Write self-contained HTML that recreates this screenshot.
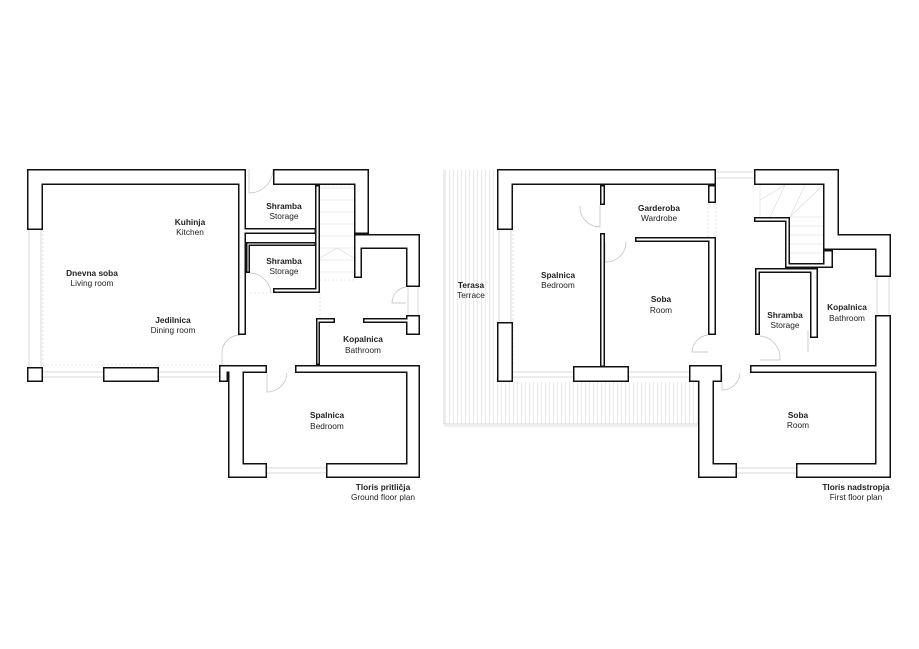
<!DOCTYPE html>
<html><head><meta charset="utf-8"><style>
html,body{margin:0;padding:0;background:#fff;}
svg{display:block;}
text{font-family:"Liberation Sans",sans-serif;font-size:8.3px;fill:#222;text-anchor:middle;}
.b{font-weight:bold;}
</style></head><body>
<svg width="919" height="649" viewBox="0 0 919 649" xmlns="http://www.w3.org/2000/svg">
<defs>
<pattern id="hatch" x="445" y="0" width="4" height="10" patternUnits="userSpaceOnUse">
<line x1="0.5" y1="0" x2="0.5" y2="10" stroke="#dedede" stroke-width="0.6"/>
</pattern>
</defs>
<rect width="919" height="649" fill="#fff"/>
<rect x="444" y="170" width="53" height="212" fill="url(#hatch)"/>
<rect x="444" y="382" width="254" height="42" fill="url(#hatch)"/>
<path d="M444 170 V424 H698" fill="none" stroke="#cfcfcf" stroke-width="0.8"/>
<line x1="444" y1="426" x2="698" y2="426" stroke="#d6d6d6" stroke-width="0.8"/>
<g stroke="#cfcfcf" stroke-width="0.8" fill="none">
<line x1="29" y1="230" x2="29" y2="367"/><line x1="41" y1="230" x2="41" y2="367"/>
<line x1="43" y1="372" x2="103" y2="372"/><line x1="43" y1="377" x2="103" y2="377"/>
<line x1="159" y1="372" x2="219" y2="372"/><line x1="159" y1="377" x2="219" y2="377"/>
<line x1="267" y1="468" x2="326" y2="468"/><line x1="267" y1="473" x2="326" y2="473"/>
<line x1="408" y1="287" x2="408" y2="315"/><line x1="418" y1="287" x2="418" y2="315"/>
<line x1="716" y1="172" x2="754" y2="172"/><line x1="716" y1="178" x2="754" y2="178"/>
<line x1="499" y1="230" x2="499" y2="322"/><line x1="511" y1="230" x2="511" y2="322"/>
<line x1="513" y1="372" x2="573" y2="372"/><line x1="513" y1="377" x2="573" y2="377"/>
<line x1="629" y1="372" x2="689" y2="372"/><line x1="629" y1="377" x2="689" y2="377"/>
<line x1="737" y1="468" x2="796" y2="468"/><line x1="737" y1="473" x2="796" y2="473"/>
<line x1="877" y1="277" x2="877" y2="315"/><line x1="889" y1="277" x2="889" y2="315"/>
</g>
<g stroke="#d6d6d6" stroke-width="0.6" fill="none" stroke-dasharray="2,2">
<line x1="43" y1="365" x2="238" y2="365"/><line x1="43" y1="230" x2="43" y2="365"/>
<line x1="513" y1="230" x2="513" y2="365"/>
<line x1="250" y1="293" x2="273" y2="293"/>
<line x1="320" y1="185" x2="354" y2="185"/>
<line x1="320" y1="280" x2="354" y2="280"/>
<line x1="320" y1="293" x2="320" y2="318"/>
<line x1="708" y1="203" x2="708" y2="237"/><line x1="716" y1="203" x2="716" y2="237"/>
</g>
<g stroke="#d8d8d8" stroke-width="0.6" fill="none">
<path d="M320 188 L354 188 M320 200 H354 M320 212 H354 M320 224 H354 M320 236 H354 M320 248 H354 M320 260 H354 M320 272 H354 M320 258 L337 248 L354 258"/>
<path d="M760 185 V217 M785 185 L770 217 M760 200 L785 185 M790 217 H823 M790 226 H823 M790 235 H823 M790 244 H823 M790 253 H823 M790 217 L823 185 M805 185 L790 217"/>
</g>
<g stroke="#bdbdbd" stroke-width="0.7" fill="none">
<path d="M249 169 V193 A24 24 0 0 0 273 169"/>
<path d="M250 273 A22 22 0 0 1 271 293"/>
<path d="M240 335 A18 18 0 0 0 222 353 V365"/>
<path d="M267 373 V392 A20 20 0 0 0 287 373"/>
<path d="M406 287 A16 16 0 0 0 392 303 H406"/>
<path d="M580 206 A20 20 0 0 0 600 227 V205"/>
<path d="M605 242 V262 A20 20 0 0 0 626 242"/>
<path d="M708 335 A18 18 0 0 0 692 352 H708"/>
<path d="M760 336 A22 22 0 0 1 780 360 H760"/>
<path d="M722 373 V390 A18 18 0 0 0 740 373"/>
<line x1="808" y1="330" x2="808" y2="352"/>
</g>
<g fill="#111">
<rect x="27" y="169" width="219" height="16"/><rect x="27" y="169" width="16" height="61"/>
<rect x="238" y="169" width="8" height="166"/><rect x="238" y="228" width="78" height="6"/>
<rect x="273" y="169" width="96" height="16"/><rect x="315" y="185" width="5" height="108"/>
<rect x="246" y="242" width="70" height="4"/><rect x="246" y="242" width="4" height="31"/>
<rect x="273" y="288" width="47" height="5"/>
<rect x="354" y="169" width="15" height="65"/><rect x="354" y="234" width="8" height="44"/>
<rect x="354" y="234" width="66" height="15"/><rect x="406" y="234" width="14" height="53"/>
<rect x="406" y="315" width="14" height="20"/>
<rect x="316" y="318" width="19" height="5"/><rect x="363" y="318" width="57" height="5"/>
<rect x="316" y="318" width="4" height="47"/>
<rect x="219" y="365" width="48" height="8"/><rect x="219" y="365" width="9" height="17"/>
<rect x="228" y="365" width="16" height="113"/>
<rect x="295" y="365" width="125" height="8"/><rect x="406" y="365" width="14" height="113"/>
<rect x="228" y="463" width="39" height="15"/><rect x="326" y="463" width="94" height="15"/>
<rect x="27" y="367" width="16" height="15"/><rect x="103" y="367" width="56" height="15"/>
<rect x="497" y="169" width="219" height="16"/><rect x="497" y="169" width="16" height="61"/>
<rect x="497" y="322" width="16" height="60"/><rect x="573" y="366" width="56" height="16"/>
<rect x="600" y="185" width="5" height="20"/><rect x="600" y="233" width="5" height="134"/>
<rect x="708" y="185" width="8" height="18"/>
<rect x="635" y="237" width="81" height="5"/><rect x="708" y="237" width="8" height="98"/>
<rect x="754" y="169" width="85" height="16"/><rect x="823" y="169" width="16" height="81"/>
<rect x="823" y="234" width="68" height="16"/><rect x="875" y="234" width="16" height="43"/>
<rect x="754" y="217" width="36" height="5"/><rect x="785" y="217" width="5" height="51"/>
<rect x="785" y="263" width="48" height="5"/><rect x="823" y="250" width="10" height="18"/>
<rect x="755" y="268" width="5" height="67"/><rect x="755" y="268" width="60" height="5"/>
<rect x="810" y="268" width="8" height="70"/>
<rect x="875" y="315" width="16" height="163"/>
<rect x="750" y="365" width="141" height="8"/>
<rect x="689" y="365" width="33" height="17"/><rect x="698" y="365" width="16" height="113"/>
<rect x="698" y="463" width="39" height="15"/><rect x="796" y="463" width="95" height="15"/>
</g>
<g fill="#fff">
<rect x="28.5" y="170.5" width="216" height="13"/><rect x="28.5" y="170.5" width="13" height="58"/>
<rect x="239.5" y="170.5" width="5" height="163"/><rect x="239.5" y="229.5" width="75" height="3"/>
<rect x="274.5" y="170.5" width="93" height="13"/><rect x="316.5" y="186.5" width="2" height="105"/>
<rect x="247.5" y="243.5" width="67" height="1"/><rect x="247.5" y="243.5" width="1" height="28"/>
<rect x="274.5" y="289.5" width="44" height="2"/>
<rect x="355.5" y="170.5" width="12" height="62"/><rect x="355.5" y="235.5" width="5" height="41"/>
<rect x="355.5" y="235.5" width="63" height="12"/><rect x="407.5" y="235.5" width="11" height="50"/>
<rect x="407.5" y="316.5" width="11" height="17"/>
<rect x="317.5" y="319.5" width="16" height="2"/><rect x="364.5" y="319.5" width="54" height="2"/>
<rect x="317.5" y="319.5" width="1" height="44"/>
<rect x="220.5" y="366.5" width="45" height="5"/><rect x="220.5" y="366.5" width="6" height="14"/>
<rect x="229.5" y="366.5" width="13" height="110"/>
<rect x="296.5" y="366.5" width="122" height="5"/><rect x="407.5" y="366.5" width="11" height="110"/>
<rect x="229.5" y="464.5" width="36" height="12"/><rect x="327.5" y="464.5" width="91" height="12"/>
<rect x="28.5" y="368.5" width="13" height="12"/><rect x="104.5" y="368.5" width="53" height="12"/>
<rect x="498.5" y="170.5" width="216" height="13"/><rect x="498.5" y="170.5" width="13" height="58"/>
<rect x="498.5" y="323.5" width="13" height="57"/><rect x="574.5" y="367.5" width="53" height="13"/>
<rect x="601.5" y="186.5" width="2" height="17"/><rect x="601.5" y="234.5" width="2" height="131"/>
<rect x="709.5" y="186.5" width="5" height="15"/>
<rect x="636.5" y="238.5" width="78" height="2"/><rect x="709.5" y="238.5" width="5" height="95"/>
<rect x="755.5" y="170.5" width="82" height="13"/><rect x="824.5" y="170.5" width="13" height="78"/>
<rect x="824.5" y="235.5" width="65" height="13"/><rect x="876.5" y="235.5" width="13" height="40"/>
<rect x="755.5" y="218.5" width="33" height="2"/><rect x="786.5" y="218.5" width="2" height="48"/>
<rect x="786.5" y="264.5" width="45" height="2"/><rect x="824.5" y="251.5" width="7" height="15"/>
<rect x="756.5" y="269.5" width="2" height="64"/><rect x="756.5" y="269.5" width="57" height="2"/>
<rect x="811.5" y="269.5" width="5" height="67"/>
<rect x="876.5" y="316.5" width="13" height="160"/>
<rect x="751.5" y="366.5" width="138" height="5"/>
<rect x="690.5" y="366.5" width="30" height="14"/><rect x="699.5" y="366.5" width="13" height="110"/>
<rect x="699.5" y="464.5" width="36" height="12"/><rect x="797.5" y="464.5" width="92" height="12"/>
</g>
<text class="b" x="190" y="225">Kuhinja</text><text x="190" y="235">Kitchen</text>
<text class="b" x="284" y="209">Shramba</text><text x="284" y="219">Storage</text>
<text class="b" x="284" y="264">Shramba</text><text x="284" y="274">Storage</text>
<text class="b" x="92" y="276">Dnevna soba</text><text x="92" y="286">Living room</text>
<text class="b" x="173" y="323">Jedilnica</text><text x="173" y="333">Dining room</text>
<text class="b" x="363" y="342">Kopalnica</text><text x="363" y="353">Bathroom</text>
<text class="b" x="327" y="418">Spalnica</text><text x="327" y="429">Bedroom</text>
<text class="b" x="383" y="490">Tloris pritličja</text><text x="383" y="500">Ground floor plan</text>
<text class="b" x="659" y="211">Garderoba</text><text x="659" y="221">Wardrobe</text>
<text class="b" x="471" y="288">Terasa</text><text x="471" y="298">Terrace</text>
<text class="b" x="558" y="278">Spalnica</text><text x="558" y="288">Bedroom</text>
<text class="b" x="661" y="302">Soba</text><text x="661" y="313">Room</text>
<text class="b" x="785" y="318">Shramba</text><text x="785" y="328">Storage</text>
<text class="b" x="847" y="310">Kopalnica</text><text x="847" y="321">Bathroom</text>
<text class="b" x="798" y="418">Soba</text><text x="798" y="428">Room</text>
<text class="b" x="856" y="490">Tloris nadstropja</text><text x="856" y="500">First floor plan</text>
</svg>
</body></html>
